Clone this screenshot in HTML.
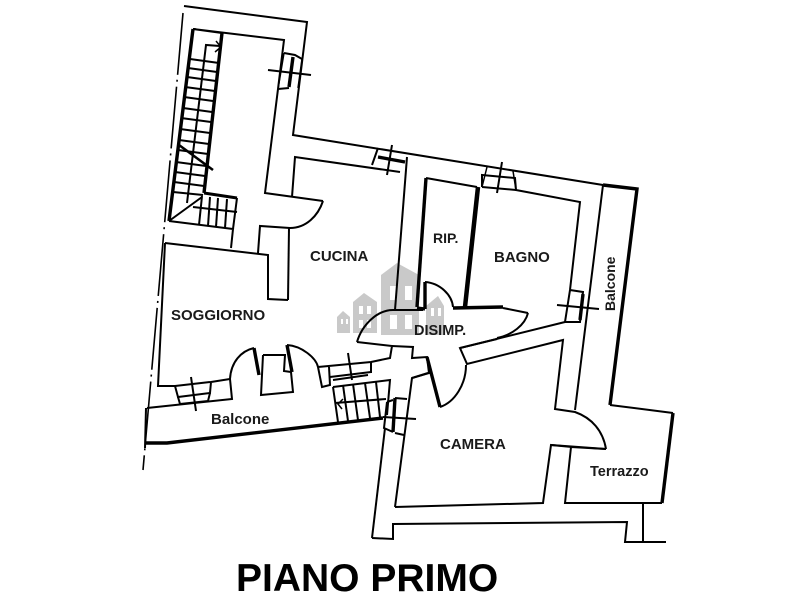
<!DOCTYPE html>
<html><head><meta charset="utf-8"><style>
html,body{margin:0;padding:0;background:#fff;width:800px;height:600px;overflow:hidden}
svg{display:block}
text{font-family:"Liberation Sans",sans-serif;font-weight:bold;fill:#1a1a1a}
.w{fill:none;stroke:#000;stroke-width:2}
.t{fill:none;stroke:#000;stroke-width:3.4}
.n{fill:none;stroke:#000;stroke-width:1.5}
</style></head><body>
<svg width="800" height="600" viewBox="0 0 800 600" xmlns="http://www.w3.org/2000/svg">
<!-- watermark -->
<g fill="#c9c9c9">
<path d="M381 335V275L397 263L419 275V335Z"/>
<path d="M353 333V302L364 293L377 302V333Z"/>
<path d="M337 333V317L343 311L350 317V333Z"/>
<path d="M426 335V306L438 296L444 306V335Z"/>
</g>
<g fill="#fff">
<rect x="390" y="286" width="7" height="14"/><rect x="405" y="286" width="7" height="14"/>
<rect x="390" y="315" width="7" height="14"/><rect x="405" y="315" width="7" height="14"/>
<rect x="359" y="306" width="4" height="8"/><rect x="367" y="306" width="4" height="8"/>
<rect x="359" y="320" width="4" height="8"/><rect x="367" y="320" width="4" height="8"/>
<rect x="341" y="319" width="2" height="5"/><rect x="346" y="319" width="2" height="5"/>
<rect x="431" y="308" width="3" height="8"/><rect x="438" y="308" width="3" height="8"/>
</g>
<!-- dash-dot site line -->
<path d="M183 13L143 470" fill="none" stroke="#000" stroke-width="1.6" stroke-dasharray="62 5 2 5"/>
<!-- outer walls -->
<polyline class="w" points="184,6 307,22 293,135 603,185"/>
<polyline class="t" points="603,185 637,189 610,405"/>
<polyline class="w" points="610,405 673,413"/>
<polyline class="t" points="673,413 662,503"/>
<polyline class="w" points="662,503 565,503 571,447 606,449"/>
<path class="w" d="M606,449 C603,431 592,418 575,412 L555,409 L563,340 L467,364 L460,348 L565,322"/>
<line class="w" x1="603" y1="185" x2="575" y2="410"/>
<polyline class="w" points="385,428 372,538"/>
<polyline class="w" points="372,538 393,539 393,524 627,522 625,542 666,542"/>
<line class="w" x1="643" y1="503" x2="643" y2="542"/>
<!-- stair room -->
<polyline class="w" points="222,33 193,29 284,40 278,89"/>
<polyline class="t" points="193,29 169,221"/>
<polyline class="w" points="169,221 233,229 231,248"/>
<polyline class="w" points="278,89 265,193 323,201"/>
<path class="w" d="M323,201C318,216 306,228 290,228L260,226L258,253"/>
<line class="w" x1="289" y1="228" x2="288" y2="300"/>
<polyline class="w" points="165,243 268,255 268,299 288,300"/>
<polyline class="w" points="165,243 158,386 175,386"/>
<!-- stair treads -->
<line class="t" x1="222" y1="33" x2="204" y2="193" stroke-width="2.5"/>
<polyline class="w" points="220,46 206,45 187,203"/>
<path class="n" d="M216,41L221,47L215,52"/>
<g class="w">
<line x1="190" y1="59" x2="219" y2="63"/><line x1="188" y1="68" x2="217" y2="72"/><line x1="187" y1="77" x2="216" y2="81"/>
<line x1="185" y1="87" x2="215" y2="91"/><line x1="184" y1="97" x2="213" y2="101"/><line x1="183" y1="108" x2="212" y2="112"/>
<line x1="181" y1="118" x2="211" y2="122"/><line x1="180" y1="129" x2="210" y2="133"/><line x1="179" y1="140" x2="209" y2="144"/>
<line x1="178" y1="150" x2="208" y2="154"/><line x1="176" y1="162" x2="206" y2="166"/><line x1="175" y1="172" x2="205" y2="176"/>
<line x1="174" y1="182" x2="204" y2="186"/><line x1="173" y1="192" x2="203" y2="195"/>
<line x1="179" y1="145" x2="213" y2="170" stroke-width="2.5"/>
<line x1="169" y1="221" x2="202" y2="197"/>
<line x1="204" y1="193" x2="237" y2="198" stroke-width="3"/>
<line x1="237" y1="198" x2="233" y2="229"/>
<line x1="193" y1="207" x2="237" y2="212"/>
<line x1="202" y1="196" x2="199" y2="225"/><line x1="210" y1="197" x2="208" y2="226"/>
<line x1="218" y1="198" x2="216" y2="227"/><line x1="227" y1="199" x2="225" y2="228"/>
</g>
<!-- cucina -->
<polyline class="w" points="292,197 295,157 400,172"/>
<line class="w" x1="407" y1="157" x2="395" y2="310"/>
<!-- window top-left -->
<polyline class="w" points="284,53 295,55 302,59"/>
<line class="t" x1="293" y1="57" x2="289" y2="87"/>
<line class="w" x1="268" y1="70" x2="311" y2="75"/>
<line class="w" x1="278" y1="89" x2="289" y2="88"/>
<line class="n" x1="284" y1="53" x2="278" y2="89"/>
<line class="n" x1="302" y1="59" x2="298" y2="88"/>
<!-- window cucina -->
<polyline class="w" points="378,148 372,165"/>
<line class="t" x1="378" y1="157" x2="405" y2="162"/>
<line class="w" x1="392" y1="145" x2="387" y2="175"/>
<!-- rip / bagno -->
<polyline class="w" points="426,178 477,187"/>
<line class="t" x1="426" y1="178" x2="417" y2="307"/>
<line x1="478" y1="187" x2="465" y2="307" stroke="#000" stroke-width="4.5"/>
<polyline class="w" points="482,187 482,175 515,178 516,190 580,202 570,290"/>
<polyline class="w" points="482,187 516,190"/>
<line class="n" x1="487" y1="167" x2="482" y2="187"/>
<line class="n" x1="513" y1="171" x2="516" y2="190"/>
<line class="w" x1="502" y1="162" x2="497" y2="193"/>
<line class="t" x1="425" y1="282" x2="425" y2="309"/>
<path class="w" d="M425,282C440,283 452,295 453,307"/>
<polyline class="t" points="417,308 425,309"/>
<polyline class="t" points="453,308 503,307"/>
<polyline class="w" points="503,308 528,313"/>
<path class="w" d="M528,313C525,325 512,335 497,338"/>
<line class="w" x1="460" y1="348" x2="497" y2="339"/>
<!-- window bagno side -->
<polyline class="w" points="570,290 583,292 580,322 565,322 570,290"/>
<line class="t" x1="583" y1="294" x2="580" y2="320"/>
<line class="w" x1="557" y1="305" x2="599" y2="309"/>
<!-- soggiorno bottom -->
<polyline class="w" points="175,386 178,397 210,393 211,382 230,379"/>
<polyline class="w" points="175,386 210,382"/>
<polyline class="w" points="180,404 208,401 210,393"/>
<line class="w" x1="191" y1="377" x2="196" y2="411"/>
<line class="w" x1="180" y1="404" x2="178" y2="397"/>
<polyline class="w" points="147,408 232,399 230,379"/>
<path class="w" d="M230,379C231,362 241,351 254,348"/>
<polyline class="t" points="254,348 259,375"/>
<polyline class="w" points="263,355 261,395 293,392 291,372"/>
<polyline class="w" points="263,355 285,355 284,371 291,372"/>
<polyline class="t" points="287,345 292,372"/>
<path class="w" d="M287,345C302,346 316,358 318,367L322,387L330,385L329,367"/>
<polyline class="w" points="318,367 371,362 390,358 392,346 357,342"/>
<path class="w" d="M357,342C362,325 377,310 393,310L423,310"/>
<polyline class="w" points="392,346 413,347 412,358 427,357 429,373 412,378 395,507"/>
<line class="w" x1="330" y1="377" x2="371" y2="372"/>
<line class="w" x1="371" y1="362" x2="371" y2="373"/>
<line class="w" x1="333" y1="380" x2="368" y2="375"/>
<line class="w" x1="348" y1="353" x2="352" y2="380"/>
<!-- lower stair -->
<polyline class="w" points="333,387 390,380 387,415"/>
<g class="w">
<line x1="333" y1="387" x2="338" y2="422"/><line x1="343" y1="385" x2="348" y2="421"/><line x1="353" y1="384" x2="358" y2="420"/>
<line x1="365" y1="383" x2="370" y2="418"/><line x1="376" y1="382" x2="380" y2="417"/>
<line x1="335" y1="403" x2="386" y2="399"/>
</g>
<path class="n" d="M343,399L338,404L342,409"/>
<path class="t" d="M145,443L167,443L383,418" stroke-width="3"/>
<line class="w" x1="146" y1="408" x2="145" y2="448"/>
<!-- window lower -->
<polyline class="w" points="387,402 393,400"/>
<polyline class="w" points="395,398 407,399"/>
<polyline class="w" points="387,402 384,428 393,432"/>
<polyline class="w" points="395,433 404,435"/>
<line class="w" x1="383" y1="417" x2="416" y2="419"/>
<line class="t" x1="395" y1="398" x2="393" y2="432"/>
<!-- camera -->
<polyline class="w" points="412,378 428,373"/>
<polyline class="t" points="427,357 440,407"/>
<path class="w" d="M440,407C455,402 466,384 466,365"/>
<polyline class="w" points="395,507 543,503 551,445 572,447"/>
<line class="w" x1="551" y1="445" x2="606" y2="449"/>
<!-- labels -->
<text x="310" y="261" font-size="15">CUCINA</text>
<text x="171" y="320" font-size="15">SOGGIORNO</text>
<text x="433" y="243" font-size="14">RIP.</text>
<text x="494" y="262" font-size="15">BAGNO</text>
<text x="414" y="335" font-size="14.5">DISIMP.</text>
<text x="211" y="424" font-size="15">Balcone</text>
<text x="440" y="449" font-size="15">CAMERA</text>
<text x="590" y="476" font-size="14.5">Terrazzo</text>
<text transform="translate(615,311) rotate(-90)" font-size="14">Balcone</text>
<text x="236" y="591" font-size="39" style="fill:#000">PIANO PRIMO</text>
</svg>
</body></html>
